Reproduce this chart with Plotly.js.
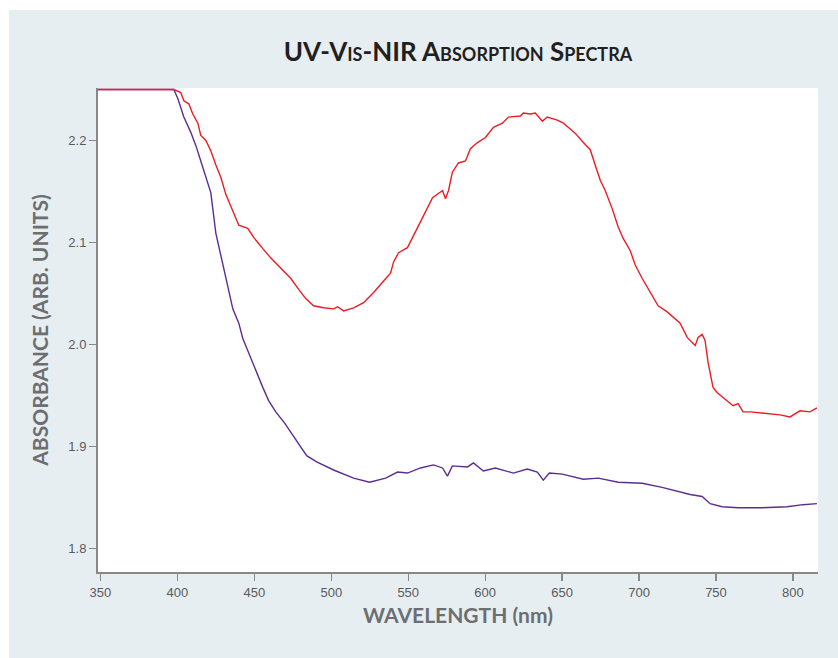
<!DOCTYPE html>
<html>
<head>
<meta charset="utf-8">
<script src="https://cdn.plot.ly/plotly-3.0.1.min.js"></script>
<style>
html,body{margin:0;padding:0;background:#ffffff;}
#chart{position:absolute;left:9px;top:10px;width:829px;height:648px;}
</style>
</head>
<body>
<div id="chart"></div>
<script>
// Wavelength (nm) and absorbance for the red spectrum
const redWavelength = [348.4, 397.7, 402.2, 404.2, 407.4, 410.0, 413.3, 415.2, 418.5, 421.7, 425.0, 428.2, 431.5, 436.0, 439.9, 445.7, 449.6, 455.5, 460.6, 467.1, 473.6, 478.8, 483.4, 488.5, 495.0, 501.5, 504.1, 508.0, 514.5, 521.0, 527.5, 533.3, 538.5, 540.5, 543.7, 549.5, 552.8, 556.7, 561.2, 565.8, 572.3, 574.2, 576.2, 578.7, 582.6, 587.2, 590.4, 595.0, 600.2, 605.4, 611.2, 615.1, 622.9, 624.8, 629.4, 632.6, 637.2, 640.4, 646.9, 650.8, 654.0, 658.6, 663.8, 668.3, 671.5, 674.8, 678.0, 682.6, 686.5, 689.7, 694.3, 697.5, 702.0, 707.2, 712.4, 718.3, 722.2, 726.7, 731.3, 736.5, 738.4, 741.0, 742.9, 744.9, 748.1, 750.7, 754.6, 761.1, 764.4, 767.6, 772.2, 780.6, 791.6, 798.1, 804.6, 811.1, 815.6];
const redAbsorbance = [2.250, 2.250, 2.247, 2.239, 2.236, 2.226, 2.217, 2.205, 2.200, 2.190, 2.176, 2.164, 2.147, 2.130, 2.117, 2.114, 2.105, 2.094, 2.085, 2.075, 2.065, 2.054, 2.045, 2.038, 2.036, 2.035, 2.037, 2.033, 2.036, 2.041, 2.051, 2.061, 2.070, 2.081, 2.090, 2.095, 2.105, 2.117, 2.129, 2.144, 2.151, 2.143, 2.151, 2.169, 2.178, 2.180, 2.192, 2.198, 2.203, 2.213, 2.217, 2.223, 2.224, 2.227, 2.226, 2.227, 2.219, 2.223, 2.220, 2.217, 2.213, 2.207, 2.198, 2.191, 2.176, 2.161, 2.151, 2.133, 2.115, 2.104, 2.092, 2.078, 2.065, 2.051, 2.038, 2.032, 2.027, 2.021, 2.007, 1.999, 2.007, 2.010, 2.004, 1.982, 1.958, 1.953, 1.948, 1.940, 1.942, 1.934, 1.934, 1.933, 1.931, 1.929, 1.935, 1.934, 1.938];

// Wavelength (nm) and absorbance for the purple spectrum
const purpleWavelength = [348.4, 397.7, 400.3, 404.2, 408.7, 412.0, 415.2, 418.5, 421.7, 425.0, 428.2, 431.4, 436.0, 439.9, 442.5, 446.4, 450.9, 455.5, 459.3, 463.9, 469.7, 477.5, 484.0, 490.5, 501.5, 514.5, 524.9, 535.3, 543.1, 549.5, 558.0, 566.4, 572.3, 575.5, 578.7, 588.5, 592.4, 598.8, 606.6, 618.3, 627.4, 633.9, 637.8, 641.7, 650.1, 663.8, 673.5, 686.5, 702.1, 715.0, 725.4, 733.2, 741.0, 746.2, 754.0, 764.4, 780.0, 796.2, 806.6, 815.6];
const purpleAbsorbance = [2.250, 2.250, 2.241, 2.223, 2.208, 2.195, 2.180, 2.164, 2.149, 2.109, 2.089, 2.066, 2.035, 2.021, 2.006, 1.991, 1.975, 1.958, 1.945, 1.934, 1.923, 1.906, 1.891, 1.885, 1.877, 1.869, 1.865, 1.869, 1.875, 1.874, 1.879, 1.882, 1.879, 1.871, 1.881, 1.880, 1.884, 1.876, 1.879, 1.874, 1.878, 1.875, 1.867, 1.874, 1.873, 1.868, 1.869, 1.865, 1.864, 1.860, 1.856, 1.853, 1.851, 1.844, 1.841, 1.840, 1.840, 1.841, 1.843, 1.844];

const xTickValues = [350, 400, 450, 500, 550, 600, 650, 700, 750, 800];
const yTickValues = [1.8, 1.9, 2.0, 2.1, 2.2];

const traces = [
  {x: purpleWavelength, y: purpleAbsorbance, type: 'scatter', mode: 'lines',
   line: {color: '#5c2d91', width: 1.4}, hoverinfo: 'skip'},
  {x: redWavelength, y: redAbsorbance, type: 'scatter', mode: 'lines',
   line: {color: '#ed1c24', width: 1.4}, hoverinfo: 'skip'}
];

const layout = {
  width: 829, height: 648,
  paper_bgcolor: '#e7eef2',
  plot_bgcolor: '#ffffff',
  showlegend: false,
  margin: {l: 89, r: 20, t: 78, b: 86},
  title: {
    text: 'UV-Vis-NIR Absorption Spectra',
    x: 0.5, xref: 'paper', y: 0.935, yref: 'container', yanchor: 'middle',
    font: {family: 'Lato, "Noto Sans", sans-serif', size: 26, color: '#231f20', weight: 'bold', variant: 'small-caps'}
  },
  xaxis: {
    range: [348.4, 816.3],
    tickvals: xTickValues,
    ticktext: xTickValues.map(String),
    ticks: 'outside', ticklen: 7, tickwidth: 1.2, tickcolor: '#888888',
    showline: true, linecolor: '#888888', linewidth: 2,
    showgrid: false, zeroline: false,
    tickfont: {family: '"Liberation Sans", Arial, sans-serif', size: 13, color: '#5a5a5a'},
    title: {text: 'WAVELENGTH (nm)', standoff: 10,
      font: {family: 'Lato, "Noto Sans", sans-serif', size: 21, color: '#6d6e70', weight: 'bold'}}
  },
  yaxis: {
    range: [1.777, 2.2515],
    tickvals: yTickValues,
    ticktext: yTickValues.map(v => v.toFixed(1)),
    ticks: 'outside', ticklen: 7, tickwidth: 1.2, tickcolor: '#888888',
    showline: true, linecolor: '#888888', linewidth: 2,
    showgrid: false, zeroline: false,
    tickfont: {family: '"Liberation Sans", Arial, sans-serif', size: 13, color: '#5a5a5a'},
    title: {text: 'ABSORBANCE (ARB. UNITS)', standoff: 14,
      font: {family: 'Lato, "Noto Sans", sans-serif', size: 21, color: '#6d6e70', weight: 'bold'}}
  }
};

Plotly.newPlot('chart', traces, layout, {staticPlot: true, displayModeBar: false});
</script>
</body>
</html>
